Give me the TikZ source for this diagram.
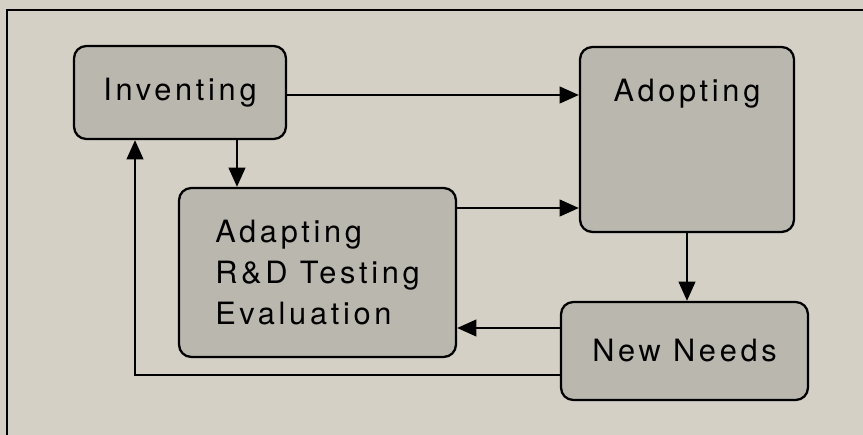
\documentclass[tikz,border=0pt]{standalone}
\usepackage{fontspec}
\setmainfont{TeX Gyre Heros}[LetterSpace=12]
\usepackage{tikz}
\usetikzlibrary{arrows.meta}
\definecolor{carta}{RGB}{212,208,197}
\definecolor{grigio}{RGB}{186,183,175}

\begin{document}
\begin{tikzpicture}[x=0.02cm, y=-0.02cm,
    box/.style={draw, line width=1.3pt, fill=grigio, rounded corners=7pt,
                inner sep=0pt, font=\fontsize{17.5}{23.2}\selectfont},
    arr/.style={line width=1.3pt, -{Triangle[length=11pt, width=9.5pt]}}]
                % Sfondo
                \fill[carta] (0,0) rectangle (863,435);
                \useasboundingbox (0,0) rectangle (863,435);
                % Cornice
                \draw[line width=1.1pt] (863,10) -- (7,10) -- (7,435);

                \node[box, minimum width=4.24cm, minimum height=1.86cm] (inv) at (180,92.5) {Inventing};
                \node[box, minimum width=4.28cm, minimum height=3.7cm,
                      label={[anchor=center, yshift=-0.96cm, font=\fontsize{17.5}{23.2}\selectfont]north:Adopting}] (adop) at (687,139.5) {};
                \node[box, minimum width=5.54cm, minimum height=3.38cm, align=left] (adapt) at (317.5,272.5) {Adapting\\R\&D Testing\\Evaluation};
                \node[box, minimum width=4.94cm, minimum height=1.96cm] (new) at (684.5,351) {New Needs};

                \draw[arr] ([yshift=-0.05cm]inv.east) -- ([yshift=-0.05cm]inv.east -| adop.west);
                \draw[arr] ([xshift=1.14cm]inv.south) -- ([xshift=1.14cm]inv.south |- adapt.north);
                \draw[arr] ([yshift=1.29cm]adapt.east) -- ([yshift=1.29cm]adapt.east -| adop.west);
                \draw[arr] (adop.south) -- (adop.south |- new.north);
                \draw[arr] ([yshift=0.46cm]new.west) -- ([yshift=0.46cm]new.west -| adapt.east);
                \draw[arr] ([yshift=-0.48cm]new.west) -| ([xshift=-0.9cm]inv.south);
            \end{tikzpicture}
\end{document}
